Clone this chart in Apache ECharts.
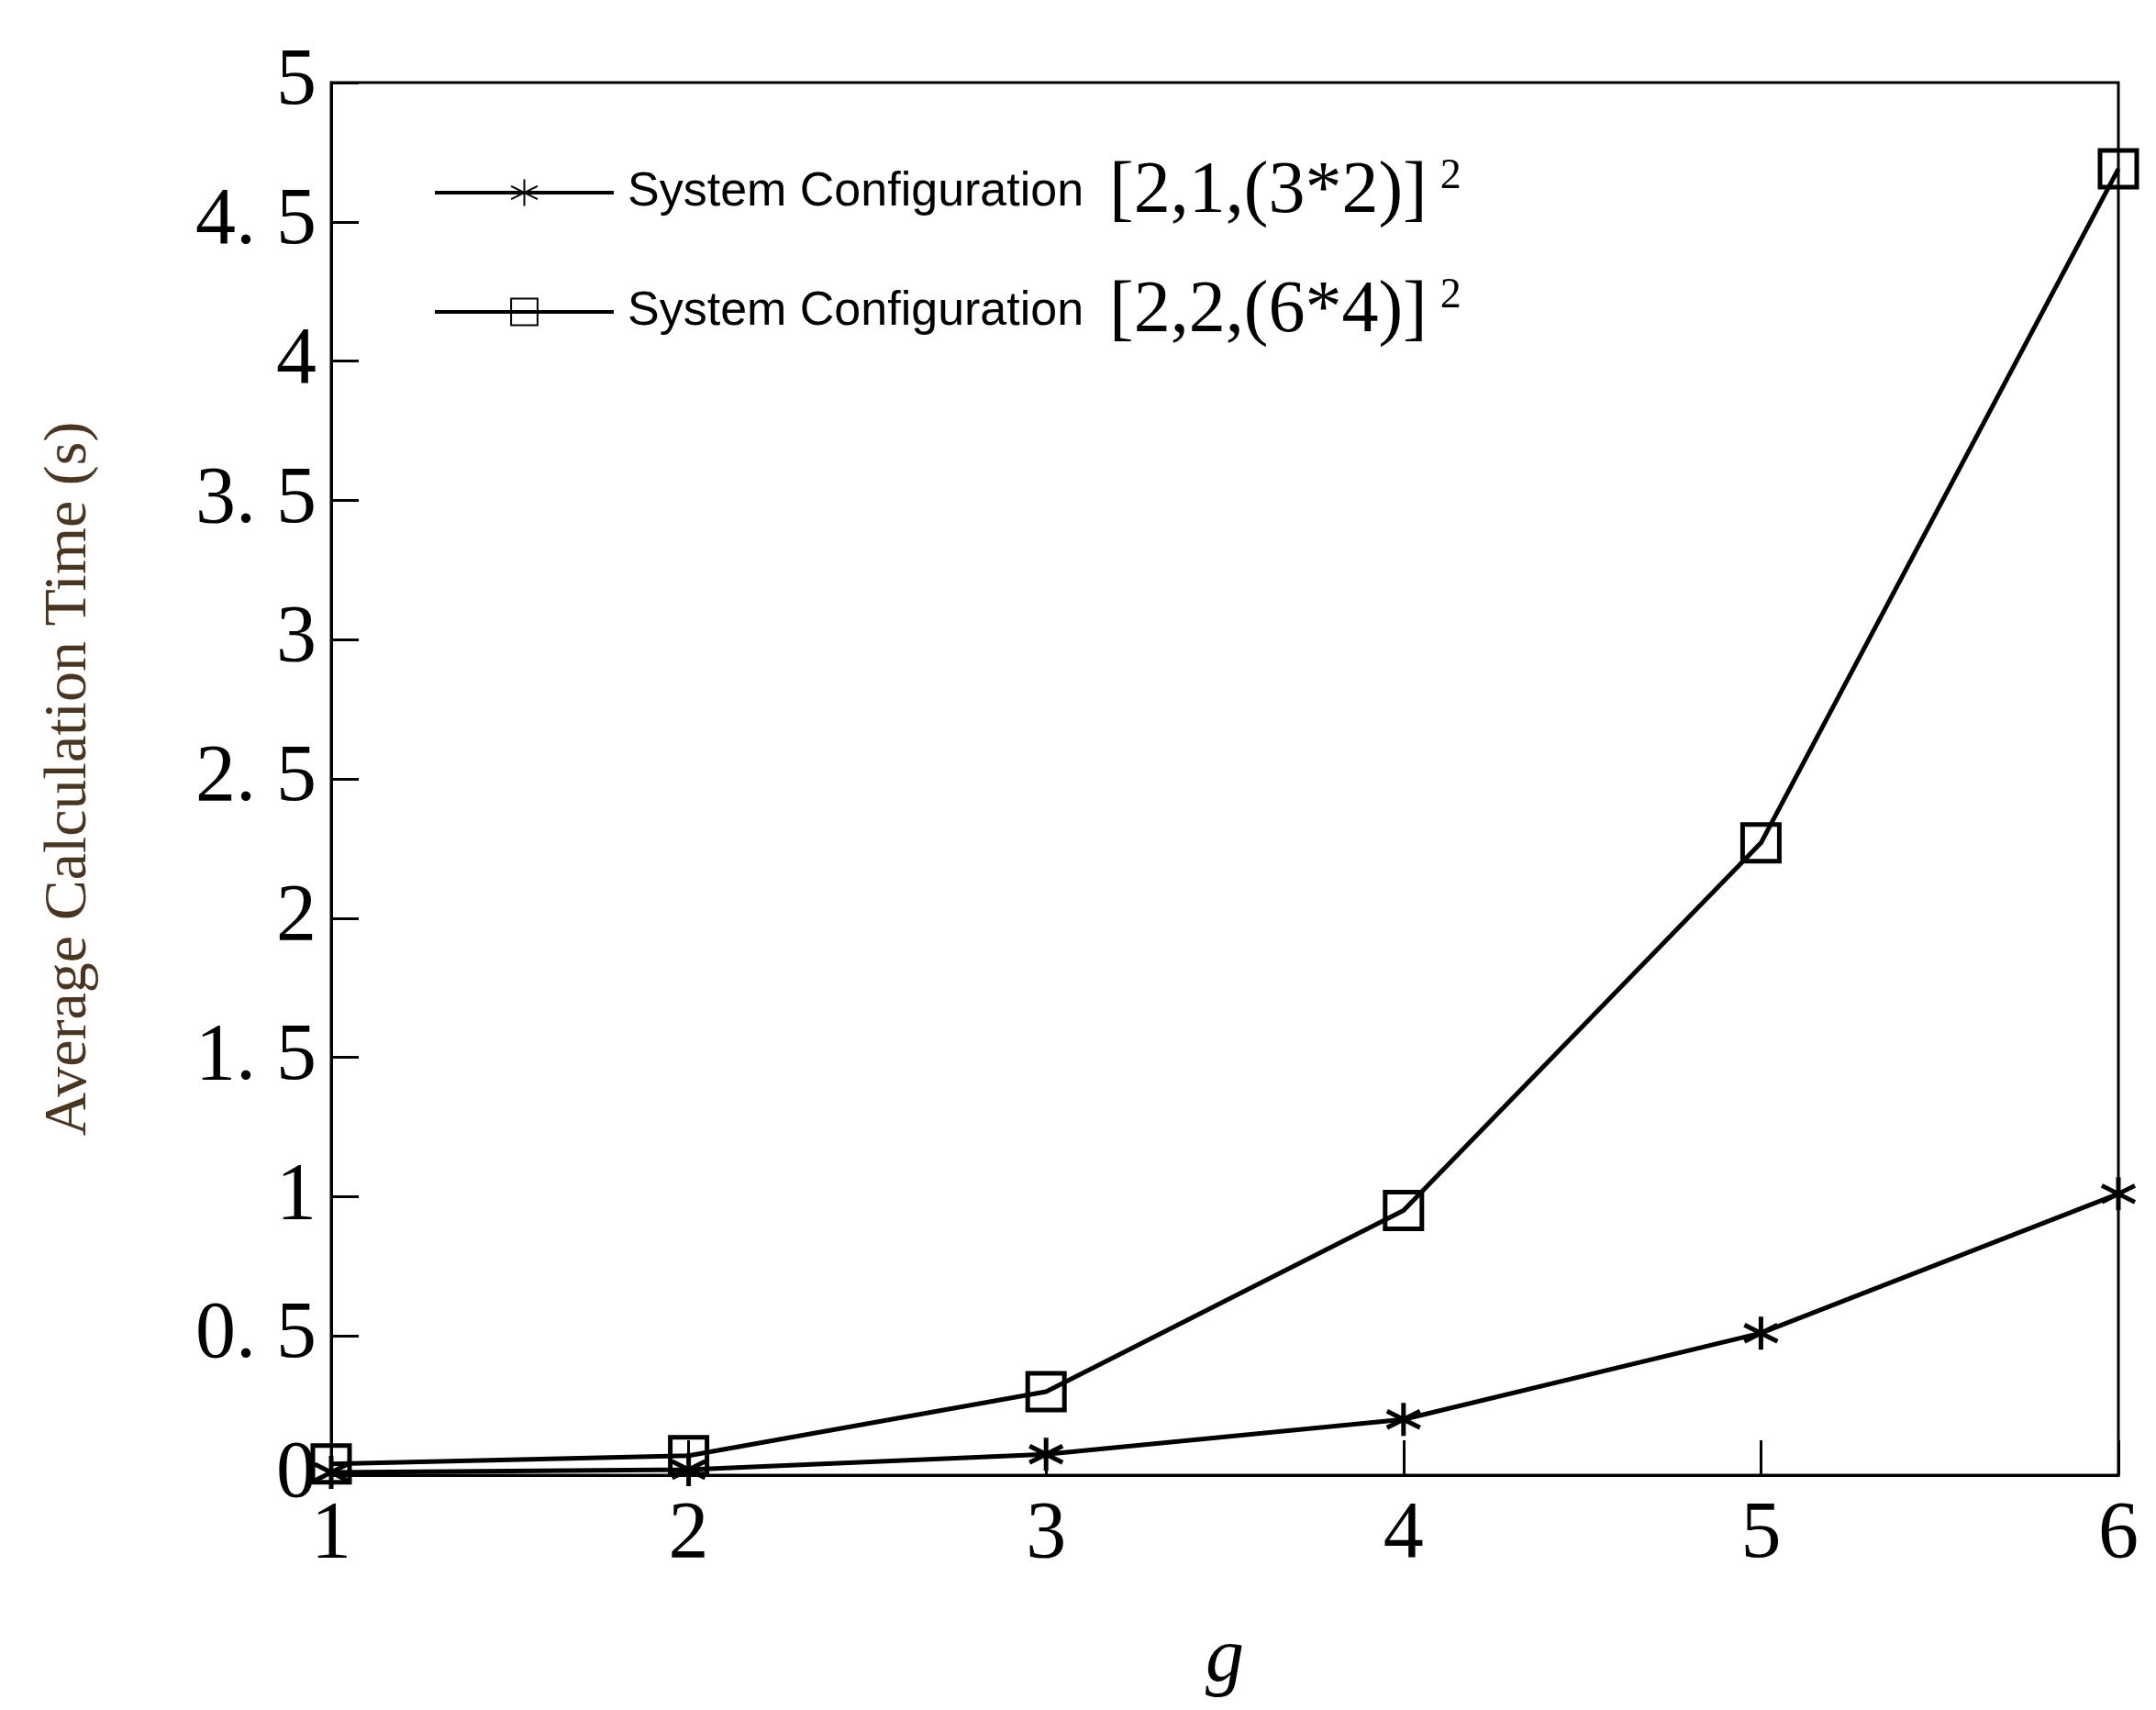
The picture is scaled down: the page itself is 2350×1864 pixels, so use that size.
<!DOCTYPE html>
<html>
<head>
<meta charset="utf-8">
<script src="https://cdn.jsdelivr.net/npm/echarts@6/dist/echarts.min.js"></script>
<style>
  html, body { margin: 0; padding: 0; background: #fff; }
  #chart { width: 2350px; height: 1864px; }
</style>
</head>
<body>
<div id="chart"></div>
<script>
// data
var gValues = [1, 2, 3, 4, 5, 6];
var config1 = [0.01, 0.02, 0.075, 0.2, 0.51, 1.01];
var config2 = [0.04, 0.07, 0.30, 0.95, 2.27, 4.69];
var seriesNames = ['cfg1', 'cfg2'];
var legendSizes = { cfg1: '[2,1,(3*2)]', cfg2: '[2,2,(6*4)]' };

function pairs(ys) {
  return gValues.map(function (g, i) { return [g, ys[i]]; });
}

var star = 'path://M0,-10L0,10M-8.66,-5L8.66,5M-8.66,5L8.66,-5';
var serif = '"Liberation Serif", "DejaVu Serif", serif';

var chart = echarts.init(document.getElementById('chart'));
chart.setOption({
  animation: false,
  backgroundColor: '#fff',
  grid: {
    left: 361, right: 41, top: 90, bottom: 256,
    show: true, borderColor: '#000', borderWidth: 3, backgroundColor: 'transparent'
  },
  legend: {
    left: 467,
    top: 165,
    orient: 'vertical',
    itemWidth: 195,
    itemHeight: 36,
    itemGap: 50,
    data: seriesNames,
    lineStyle: { width: 4 },
    formatter: function (name) {
      return '{a|System Configuration}{b|' + legendSizes[name] + '}{c|2}';
    },
    textStyle: {
      rich: {
        a: { fontFamily: '"Liberation Sans", "Open Sans", sans-serif', fontSize: 52, color: '#000', padding: [0, 0, 0, 10] },
        b: { fontFamily: serif, fontSize: 80, color: '#000', padding: [0, 0, 0, 28] },
        c: { fontFamily: serif, fontSize: 46, color: '#000', verticalAlign: 'top', padding: [0, 0, 34, 14] }
      }
    }
  },
  xAxis: {
    type: 'value',
    min: 1, max: 6, interval: 1,
    name: 'g',
    nameLocation: 'middle',
    nameGap: 160,
    nameTextStyle: { fontFamily: serif, fontStyle: 'italic', fontSize: 84, color: '#000' },
    axisLine: { lineStyle: { color: '#000', width: 3 } },
    axisTick: { inside: true, length: 38, lineStyle: { color: '#000', width: 3 } },
    axisLabel: { margin: 22, fontFamily: serif, fontSize: 88, color: '#000' },
    splitLine: { show: false }
  },
  yAxis: {
    type: 'value',
    min: 0, max: 5, interval: 0.5,
    name: 'Average Calculation Time (s)',
    nameLocation: 'middle',
    nameGap: 252,
    nameTextStyle: { fontFamily: serif, fontSize: 66, color: '#4a3520' },
    axisLine: { lineStyle: { color: '#000', width: 3 } },
    axisTick: { inside: true, length: 30, lineStyle: { color: '#000', width: 3 } },
    axisLabel: {
      margin: 16, fontFamily: serif, fontSize: 88, color: '#000',
      formatter: function (v) { return String(v).replace('.', '. '); }
    },
    splitLine: { show: false }
  },
  series: [
    {
      name: 'cfg1',
      type: 'line',
      data: pairs(config1),
      symbol: star,
      symbolSize: 36,
      lineStyle: { color: '#000', width: 5 },
      itemStyle: { color: '#000', borderColor: '#000', borderWidth: 5 }
    },
    {
      name: 'cfg2',
      type: 'line',
      data: pairs(config2),
      symbol: 'rect',
      symbolSize: 40,
      lineStyle: { color: '#000', width: 5 },
      itemStyle: { color: 'rgba(255,255,255,0)', borderColor: '#000', borderWidth: 5 }
    }
  ]
});
</script>
</body>
</html>
